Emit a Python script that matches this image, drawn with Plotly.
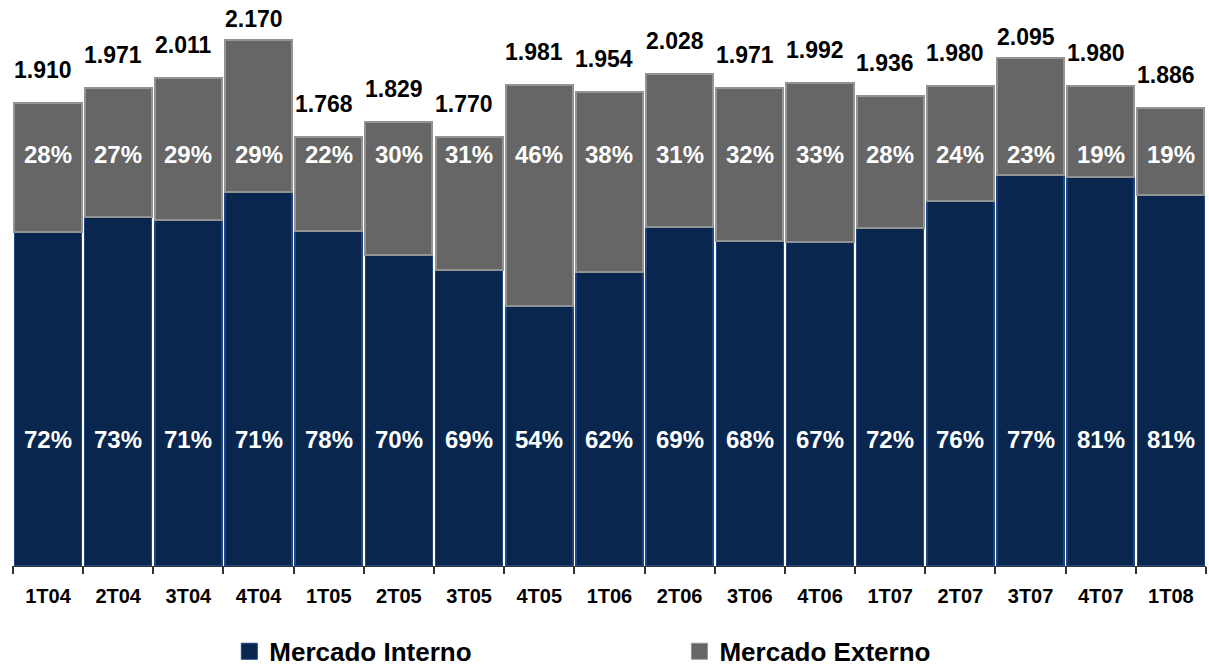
import plotly.graph_objects as go

# Quarterly volumes split between domestic and export markets
quarters = ["1T04", "2T04", "3T04", "4T04", "1T05", "2T05", "3T05", "4T05", "1T06",
            "2T06", "3T06", "4T06", "1T07", "2T07", "3T07", "4T07", "1T08"]
totals = [1910, 1971, 2011, 2170, 1768, 1829, 1770, 1981, 1954,
          2028, 1971, 1992, 1936, 1980, 2095, 1980, 1886]
pct_interno = [72, 73, 71, 71, 78, 70, 69, 54, 62, 69, 68, 67, 72, 76, 77, 81, 81]
pct_externo = [28, 27, 29, 29, 22, 30, 31, 46, 38, 31, 32, 33, 28, 24, 23, 19, 19]

interno = [t * p / 100 for t, p in zip(totals, pct_interno)]
externo = [t - i for t, i in zip(totals, interno)]

FONT = "Arial, Liberation Sans, sans-serif"
BLUE = "#09264f"
GRAY = "#666666"

fig = go.Figure()
fig.add_trace(go.Bar(
    x=quarters, y=interno, name="Mercado Interno", showlegend=False,
    marker=dict(color=BLUE, line=dict(color="#1d4683", width=1.5)),
    hoverinfo="skip",
))
fig.add_trace(go.Bar(
    x=quarters, y=externo, name="Mercado Externo", showlegend=False,
    marker=dict(color=GRAY, line=dict(color="#939393", width=2)),
    hoverinfo="skip",
))

# Legend entries with larger square swatches, one legend per series
fig.add_trace(go.Scatter(
    x=[None], y=[None], mode="markers", name="Mercado Interno", legend="legend",
    marker=dict(symbol="square", size=19, color=BLUE, line=dict(color="#1d4683", width=1)),
))
fig.add_trace(go.Scatter(
    x=[None], y=[None], mode="markers", name="Mercado Externo", legend="legend2",
    marker=dict(symbol="square", size=19, color=GRAY, line=dict(color="#939393", width=1)),
))

annotations = []
for q, tot, pi, pe in zip(quarters, totals, pct_interno, pct_externo):
    # total above each stack (tallest bars keep their label closer)
    annotations.append(dict(
        x=q, y=tot, text=f"{tot / 1000:.3f}", showarrow=False,
        yanchor="middle", yshift=21 if tot > 2050 else 33, xshift=-5,
        font=dict(family=FONT, size=23, color="#000000", weight="bold"),
    ))
    annotations.append(dict(
        x=q, y=520, text=f"{pi}%", showarrow=False, yanchor="middle",
        font=dict(family=FONT, size=24, color="#ffffff", weight="bold"),
    ))
    annotations.append(dict(
        x=q, y=1695, text=f"{pe}%", showarrow=False, yanchor="middle",
        font=dict(family=FONT, size=24, color="#ffffff", weight="bold"),
    ))

legend_font = dict(family=FONT, size=26, color="#000000", weight="bold")
common_legend = dict(orientation="h", xanchor="left", yref="container", y=0.022,
                     yanchor="middle", font=legend_font, bgcolor="rgba(0,0,0,0)")
fig.update_layout(
    width=1209, height=666,
    margin=dict(l=12, r=3, t=8, b=100),
    barmode="stack", bargap=0.045,
    plot_bgcolor="#ffffff", paper_bgcolor="#ffffff",
    font=dict(family=FONT),
    showlegend=True,
    legend=dict(x=0.182, **common_legend),
    legend2=dict(x=0.559, **common_legend),
    annotations=annotations,
)
fig.update_xaxes(
    showline=True, linecolor="#333333", linewidth=1,
    ticks="outside", tickson="boundaries", ticklen=7, tickcolor="#333333", tickwidth=1.5,
    tickfont=dict(family=FONT, size=20, color="#000000", weight="bold"),
    ticklabelstandoff=12,
    showgrid=False, fixedrange=True,
)
fig.update_yaxes(range=[0, 2300], visible=False, showgrid=False, fixedrange=True)

fig.write_html("out.html")
